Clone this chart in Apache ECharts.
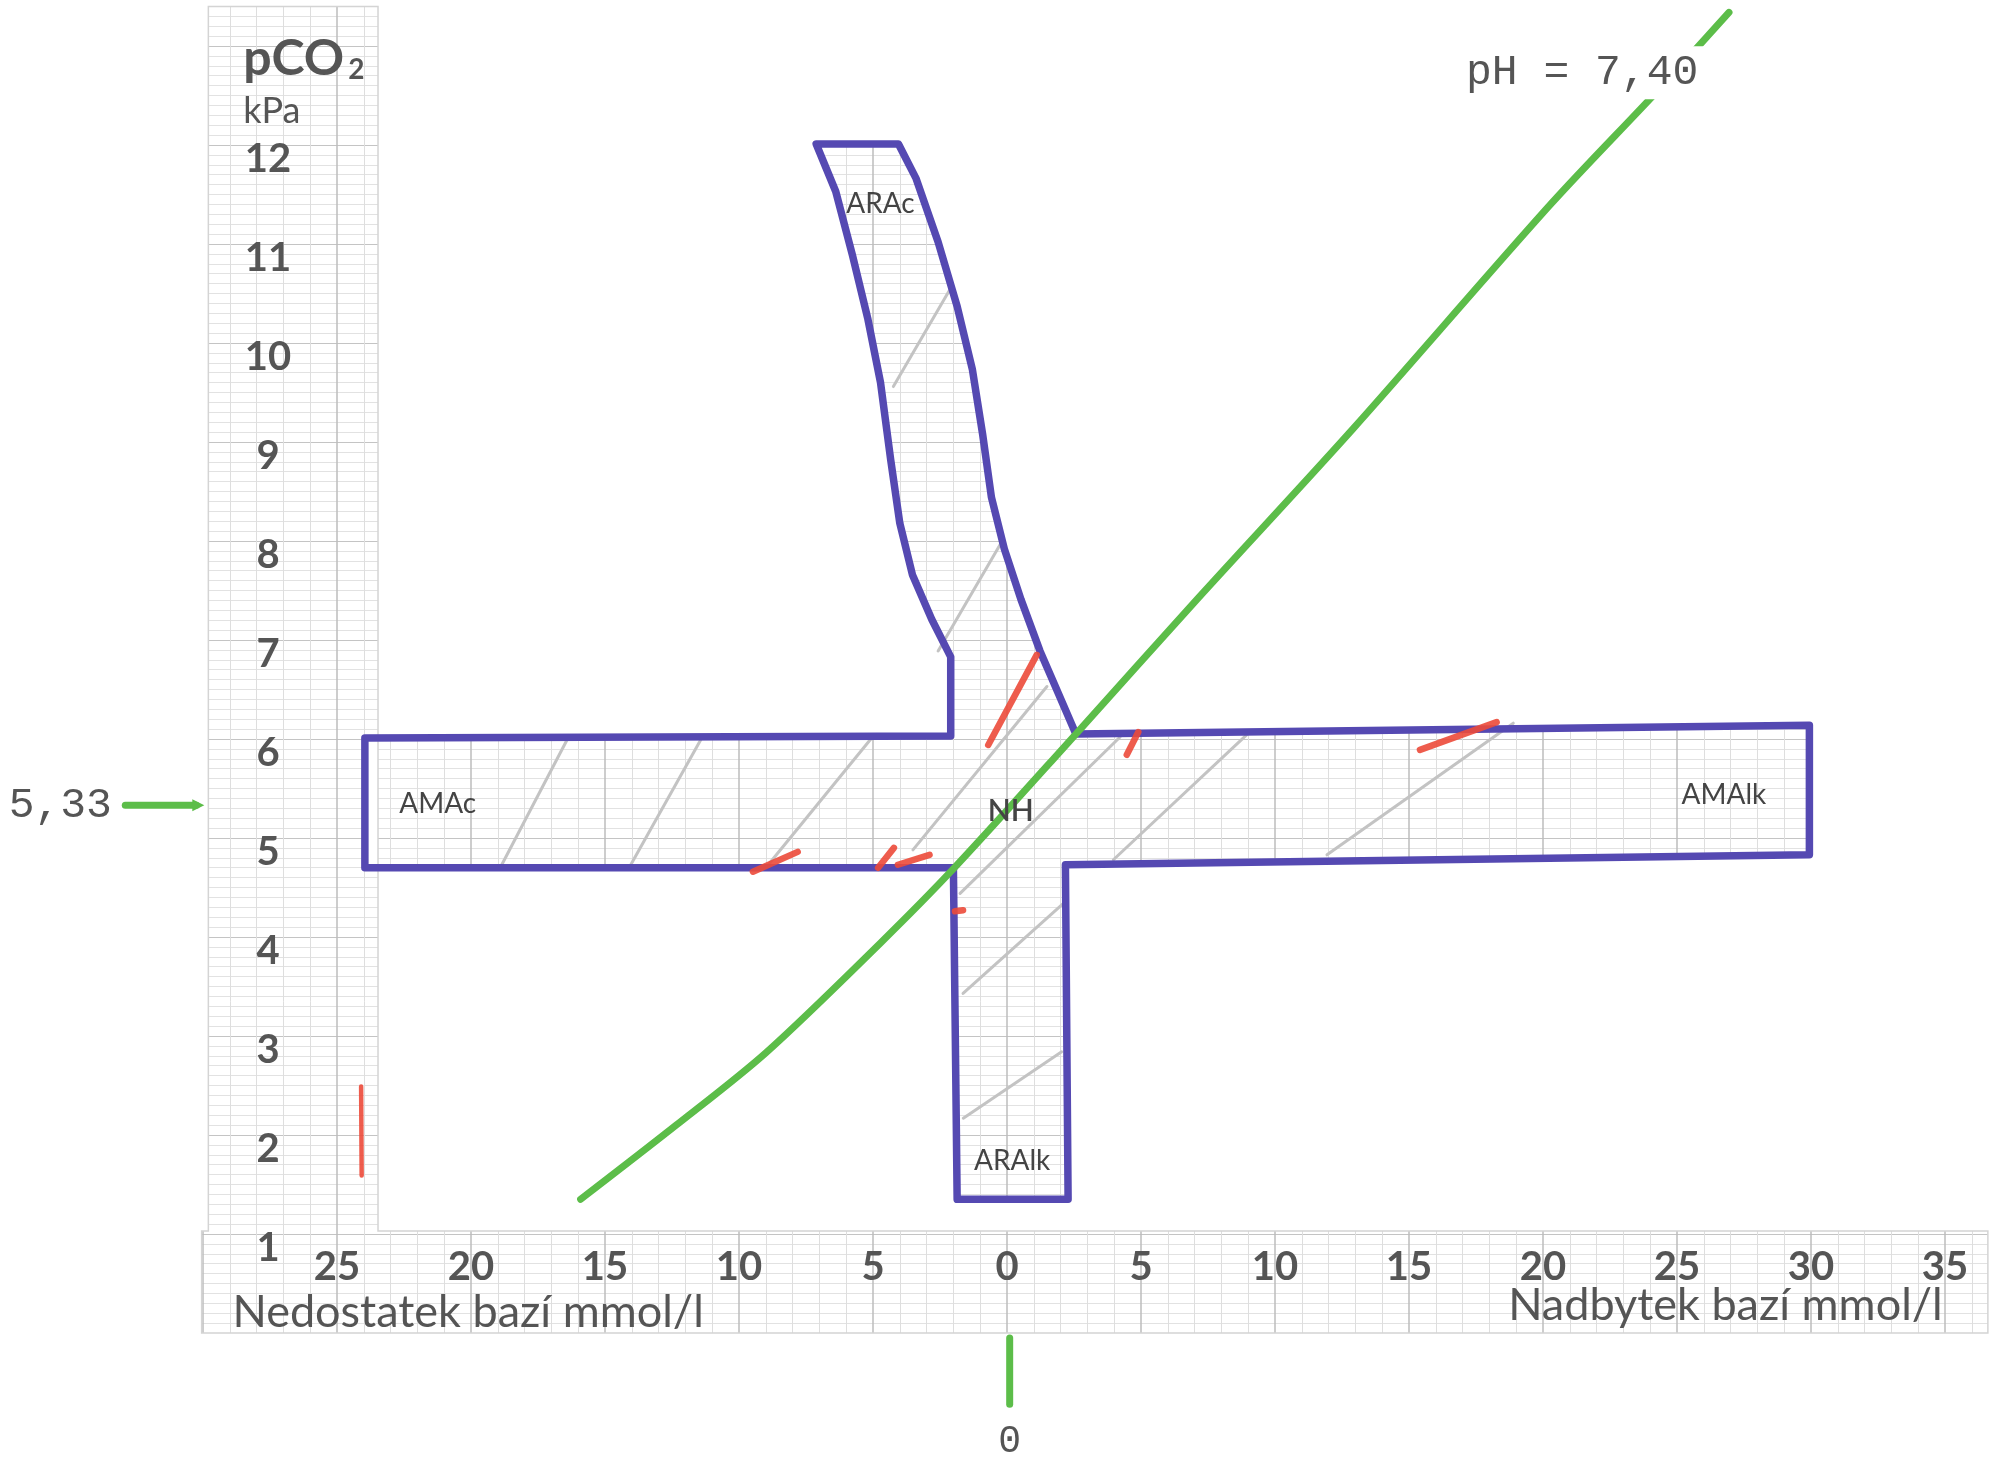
<!DOCTYPE html>
<html><head><meta charset="utf-8">
<script src="https://cdn.jsdelivr.net/npm/echarts@6/dist/echarts.min.js"></script>
<style>html,body{margin:0;padding:0;background:#fff;}#c{width:2001px;height:1461px;}</style>
</head><body><div id="c"></div>
<script>
// ---- axis ticks ----
const xTickValues = [-25, -20, -15, -10, -5, 0, 5, 10, 15, 20, 25, 30, 35];
const xTickLabels = ['25', '20', '15', '10', '5', '0', '5', '10', '15', '20', '25', '30', '35'];
const yTickValues = [1, 2, 3, 4, 5, 6, 7, 8, 9, 10, 11, 12];
const yTickLabels = ['1', '2', '3', '4', '5', '6', '7', '8', '9', '10', '11', '12'];
const xTitleDeficit = 'Nedostatek bazí mmol/l';
const xTitleExcess = 'Nadbytek bazí mmol/l';
const yTitleMain = 'pCO';
const yTitleSub = '2';
const yUnit = 'kPa';
const X_RANGE = [-35, 37];
const Y_RANGE = [0, 13.4];

// ---- outline of the region map [BE mmol/l, pCO2 kPa] ----
const regionOutline = [
  [-7.12, 12.01], [-4.05, 12.01], [-3.39, 11.66], [-2.57, 11.02], [-1.86, 10.37], [-1.29, 9.73],
  [-0.91, 9.08], [-0.58, 8.44], [-0.10, 7.92], [0.52, 7.41], [1.23, 6.89], [1.95, 6.44],
  [2.57, 6.05], [29.94, 6.14], [29.94, 4.83], [2.18, 4.73], [2.28, 1.35], [-1.86, 1.35],
  [-2.00, 4.70], [-23.96, 4.70], [-23.96, 6.01], [-2.10, 6.03], [-2.10, 6.83], [-2.81, 7.21],
  [-3.53, 7.66], [-4.00, 8.18], [-4.34, 8.82], [-4.72, 9.60], [-5.19, 10.24], [-5.77, 10.89],
  [-6.39, 11.53]
];
// graph-paper scale strips (left pCO2 strip + bottom BE strip)
const paperStrip = [
  [-30.05, 0], [36.6, 0], [36.6, 1.03], [-23.47, 1.03], [-23.47, 13.4], [-29.8, 13.4], [-29.8, 1.03], [-30.05, 1.03]
];

// ---- pH = 7,40 isohydric line ----
const ph740Curve = [
  [-15.91, 1.35], [-12.34, 2.10], [-9.00, 2.83], [-4.72, 3.94], [-1.96, 4.70], [2.57, 6.05],
  [7.09, 7.41], [12.90, 9.13], [20.28, 11.40], [24.32, 12.56], [26.94, 13.34]
];

// ---- light grey pencil lines ----
const isoLines = [
  [[-18.91, 4.70], [-16.38, 6.01]],
  [[-14.10, 4.70], [-11.39, 6.01]],
  [[-9.00, 4.70], [-5.05, 6.01]],
  [[-3.51, 4.88], [1.49, 6.53]],
  [[-2.57, 6.89], [-0.20, 7.99]],
  [[-4.24, 9.56], [-2.13, 10.54]],
  [[-1.75, 4.44], [4.22, 6.02]],
  [[-1.64, 3.43], [2.23, 4.37]],
  [[3.97, 4.78], [9.09, 6.08]],
  [[-1.63, 2.17], [2.04, 2.84]],
  [[11.94, 4.83], [18.89, 6.16]]
];

// ---- red pencil marks ----
const redMarks = [
  [[-0.70, 5.94], [1.11, 6.85]],
  [[4.47, 5.84], [4.90, 6.07]],
  [[15.41, 5.89], [18.27, 6.17]],
  [[-9.48, 4.66], [-7.81, 4.86]],
  [[-4.81, 4.70], [-4.22, 4.90]],
  [[-4.07, 4.73], [-2.89, 4.83]],
  [[-1.94, 4.26], [-1.64, 4.27]],
  [[-24.10, 2.49], [-24.08, 1.59]]
];

// ---- region labels ----
const regionNames = ['ARAc', 'AMAc', 'NH', 'AMAlk', 'ARAlk'];
const regionBE = [-4.72, -21.24, 0.14, 26.75, 0.19];
const regionPCO2 = [11.40, 5.34, 5.27, 5.43, 1.74];

const phLabel = 'pH = 7,40';
const phLabelAt = [21.46, 12.73];
const refPCO2 = 5.33;
const refPCO2Label = '5,33';
const refBE = 0;
const refBELabel = '0';

// ---- helpers ----
function area(pts) { let s = 0; for (let i = 0; i < pts.length; i++) { const a = pts[i], b = pts[(i + 1) % pts.length]; s += a[0] * b[1] - b[0] * a[1]; } return s / 2; }
function toPath(pts) { return pts.map((p, i) => (i ? 'L' : 'M') + p[0].toFixed(2) + ' ' + p[1].toFixed(2)).join(' ') + ' Z'; }
function seg(api, a, b, style) { const p = api.coord(a), q = api.coord(b); return { type: 'line', shape: { x1: p[0], y1: p[1], x2: q[0], y2: q[1] }, style: style }; }
function txt(api, t, at, font, fill, align, valign, extra) {
  const p = api.coord(at);
  const st = { text: t, font: font, fill: fill, align: align || 'center', verticalAlign: valign || 'middle', textAlign: align || 'center', textVerticalAlign: valign || 'middle' };
  if (extra) Object.assign(st, extra);
  return { type: 'text', x: p[0], y: p[1], style: st };
}

const GREEN = '#5cbd49';
const chart = echarts.init(document.getElementById('c'), null, { renderer: 'canvas' });
const option = {
  animation: false,
  backgroundColor: '#ffffff',
  grid: { left: 69, top: 6.4, width: 1929.6, height: 1326.6 },
  xAxis: {
    type: 'value', min: X_RANGE[0], max: X_RANGE[1], interval: 5,
    axisLine: { show: false }, axisTick: { show: false },
    axisLabel: {
      inside: true, margin: 66, verticalAlign: 'middle', fontFamily: 'Lato', fontWeight: 'bold', fontSize: 40, color: '#555',
      showMinLabel: false, showMaxLabel: false,
      formatter: v => { const i = xTickValues.indexOf(Math.round(v * 100) / 100); return i < 0 ? '' : xTickLabels[i]; }
    },
    splitLine: { show: true, lineStyle: { color: '#bcbcbc', width: 1.5 } },
    minorTick: { show: false, splitNumber: 5 },
    minorSplitLine: { show: true, lineStyle: { color: '#dedede', width: 1 } }
  },
  yAxis: {
    type: 'value', min: Y_RANGE[0], max: Y_RANGE[1], interval: 1,
    axisLine: { show: false }, axisTick: { show: false },
    axisLabel: {
      inside: true, margin: 199, align: 'center', verticalAlign: 'top', lineHeight: 28,
      fontFamily: 'Lato', fontWeight: 'bold', fontSize: 40, color: '#555',
      showMinLabel: false, showMaxLabel: false,
      formatter: v => { const i = yTickValues.indexOf(Math.round(v * 100) / 100); return i < 0 ? '' : yTickLabels[i]; }
    },
    splitLine: { show: true, lineStyle: { color: '#c4c4c4', width: 1.2 } },
    minorTick: { show: false, splitNumber: 10 },
    minorSplitLine: { show: true, lineStyle: { color: '#e2e2e2', width: 1 } }
  },
  series: [
    { // white mask: graph paper only visible in the region map and the scale strips
      type: 'custom', z: 3, silent: true, data: [[0, 0]],
      renderItem: (params, api) => {
        const a = api.coord([X_RANGE[0], Y_RANGE[0]]), b = api.coord([X_RANGE[1], Y_RANGE[1]]);
        const outer = [[a[0] - 3, a[1] + 3], [b[0] + 3, a[1] + 3], [b[0] + 3, b[1] - 3], [a[0] - 3, b[1] - 3]];
        const s = Math.sign(area(outer));
        const holes = [regionOutline, paperStrip].map(r => { const pts = r.map(p => api.coord(p)); if (Math.sign(area(pts)) === s) pts.reverse(); return pts; });
        return { type: 'path', shape: { pathData: [outer].concat(holes).map(toPath).join(' ') }, style: { fill: '#ffffff', stroke: null } };
      }
    },
    { // strip edge
      type: 'custom', z: 4, silent: true, data: [[0, 0]],
      renderItem: (params, api) => ({ type: 'polygon', shape: { points: paperStrip.map(p => api.coord(p)) }, style: { fill: 'none', stroke: '#d4d4d4', lineWidth: 1.5 } })
    },
    { // grey pencil lines
      type: 'custom', z: 5, silent: true, data: [[0, 0]],
      renderItem: (params, api) => ({ type: 'group', children: isoLines.map(l => seg(api, l[0], l[1], { stroke: '#c3c3c3', lineWidth: 3, lineCap: 'round' })) })
    },
    { // region outline
      type: 'custom', z: 6, silent: true, data: [[0, 0]],
      renderItem: (params, api) => ({ type: 'polygon', shape: { points: regionOutline.map(p => api.coord(p)) }, style: { fill: 'none', stroke: '#5549b2', lineWidth: 7.5, lineJoin: 'round' } })
    },
    { // red marks
      type: 'custom', z: 7, silent: true, data: [[0, 0]],
      renderItem: (params, api) => ({ type: 'group', children: redMarks.map((l, i) => seg(api, l[0], l[1], { stroke: '#ec4a3a', opacity: 0.9, lineWidth: i === redMarks.length - 1 ? 4.5 : 6.5, lineCap: 'round' })) })
    },
    { // pH 7.40 line
      type: 'line', z: 8, data: ph740Curve, smooth: 0.3, showSymbol: false, silent: true,
      lineStyle: { color: GREEN, width: 7, cap: 'round' }
    },
    { // texts and reference markers
      type: 'custom', z: 9, silent: true, data: [[0, 0]],
      renderItem: (params, api) => {
        const ch = [];
        for (let i = 0; i < regionNames.length; i++) {
          const bold = regionNames[i] === 'NH';
          ch.push(txt(api, regionNames[i], [regionBE[i], regionPCO2[i]], (bold ? '600 30px' : '28px') + ' Lato', '#444'));
        }
        ch.push(txt(api, phLabel, phLabelAt, '43px "Liberation Mono"', '#555', 'center', 'middle', { backgroundColor: '#ffffff', padding: [6, 8, 4, 8] }));
        ch.push(txt(api, '{a|' + yTitleMain + '}{b|' + yTitleSub + '}', [-28.5, 12.87], 'bold 48px Lato', '#555', 'left', 'middle', {
          rich: {
            a: { fontFamily: 'Lato', fontWeight: 'bold', fontSize: 50, fill: '#555', color: '#555' },
            b: { fontFamily: 'Lato', fontWeight: 'bold', fontSize: 28, fill: '#555', color: '#555', padding: [22, 0, 0, 4] }
          }
        }));
        ch.push(txt(api, yUnit, [-28.5, 12.34], '36px Lato', '#555', 'left'));
        ch.push(txt(api, xTitleDeficit, [-28.9, 0.21], '45px Lato', '#555', 'left'));
        ch.push(txt(api, xTitleExcess, [18.7, 0.28], '45px Lato', '#555', 'left'));
        // 5,33 arrow
        const p0 = api.coord([-32.9, refPCO2]), p1 = api.coord([-29.95, refPCO2]);
        ch.push({ type: 'line', shape: { x1: p0[0], y1: p0[1], x2: p1[0] - 8, y2: p1[1] }, style: { stroke: GREEN, lineWidth: 7, lineCap: 'round' } });
        ch.push({ type: 'polygon', shape: { points: [[p1[0], p1[1]], [p1[0] - 12, p1[1] - 6], [p1[0] - 12, p1[1] + 6]] }, style: { fill: GREEN } });
        ch.push(txt(api, refPCO2Label, [-33.4, refPCO2], '43px "Liberation Mono"', '#555', 'right'));
        // BE 0 marker
        const q0 = api.coord([refBE + 0.1, -0.05]), q1 = api.coord([refBE + 0.1, -0.72]);
        ch.push({ type: 'line', shape: { x1: q0[0], y1: q0[1], x2: q1[0], y2: q1[1] }, style: { stroke: GREEN, lineWidth: 7, lineCap: 'round' } });
        ch.push(txt(api, refBELabel, [refBE + 0.1, -1.1], '38px "Liberation Mono"', '#555'));
        return { type: 'group', children: ch };
      }
    }
  ]
};
chart.setOption(option);
</script></body></html>
